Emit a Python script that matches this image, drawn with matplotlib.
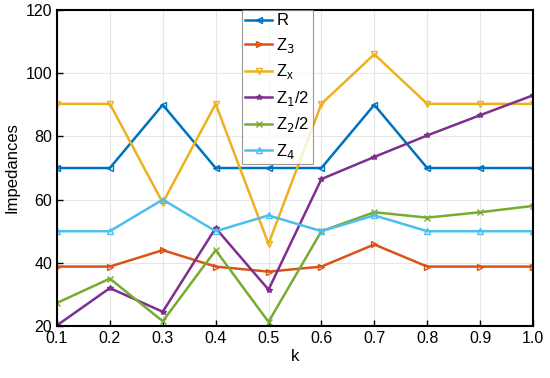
import matplotlib
matplotlib.use("Agg")
import matplotlib.pyplot as plt
import numpy as np

k = [0.1, 0.2, 0.3, 0.4, 0.5, 0.6, 0.7, 0.8, 0.9, 1.0]
R = [70, 70, 90, 70, 70, 70, 90, 70, 70, 70]
Z3 = [38.8, 38.8, 44, 38.8, 37.2, 38.8, 45.8, 38.8, 38.8, 38.8]
Zx = [90.3, 90.3, 59, 90.3, 46, 90.3, 106, 90.3, 90.3, 90.3]
Z1_half = [20.2, 32, 24.5, 51, 31.5, 66.5, 73.5, 80.3, 86.7, 93]
Z2_half = [27.3, 35, 21.5, 44, 21.3, 50, 56, 54.3, 56, 58]
Z4 = [50, 50, 60, 50, 55, 50, 55, 50, 50, 50]

plt.rcParams['font.family'] = ['Liberation Sans', 'DejaVu Sans']

fig = plt.figure(figsize=(5.5, 3.78), dpi=100)
ax = fig.add_axes([0.1036, 0.1376, 0.8654, 0.8359])

series = [
    (R, "R", "<", "#0072BD"),
    (Z3, "Z$_3$", ">", "#D95319"),
    (Zx, "Z$_\\mathregular{x}$", "v", "#EDB120"),
    (Z1_half, "Z$_1$/2", "*", "#7E2F8E"),
    (Z2_half, "Z$_2$/2", "x", "#77AC30"),
    (Z4, "Z$_4$", "^", "#4DBEEE"),
]
for vals, lab, m, c in series:
    ax.plot(k, vals, color=c, marker=m, markersize=4, linewidth=1.8,
            label=lab, markerfacecolor="none" if m not in ("*", "x") else c)

ax.set_xlim(0.1, 1.0)
ax.set_ylim(20, 120)
ax.set_xticks(k)
ax.set_xticklabels(["0.1", "0.2", "0.3", "0.4", "0.5", "0.6", "0.7", "0.8", "0.9", "1.0"])
ax.set_yticks(np.arange(20, 121, 20))
ax.grid(True, color="#e6e6e6", linewidth=0.8)
ax.set_axisbelow(True)
for s in ax.spines.values():
    s.set_linewidth(1.5)
ax.tick_params(labelsize=11.5, direction="in", length=4, width=1)
ax.set_xlabel("k", fontsize=12, labelpad=2)
ax.set_ylabel("Impedances", fontsize=12, labelpad=4)

leg = ax.legend(loc="upper left", bbox_to_anchor=(0.389, 1.0), fontsize=12,
                frameon=True, fancybox=False, edgecolor="#7f7f7f",
                handlelength=1.6, handletextpad=0.25, borderpad=0.2,
                labelspacing=0.45, borderaxespad=0)
leg.get_frame().set_linewidth(0.8)

fig.savefig("out.png", dpi=100)
